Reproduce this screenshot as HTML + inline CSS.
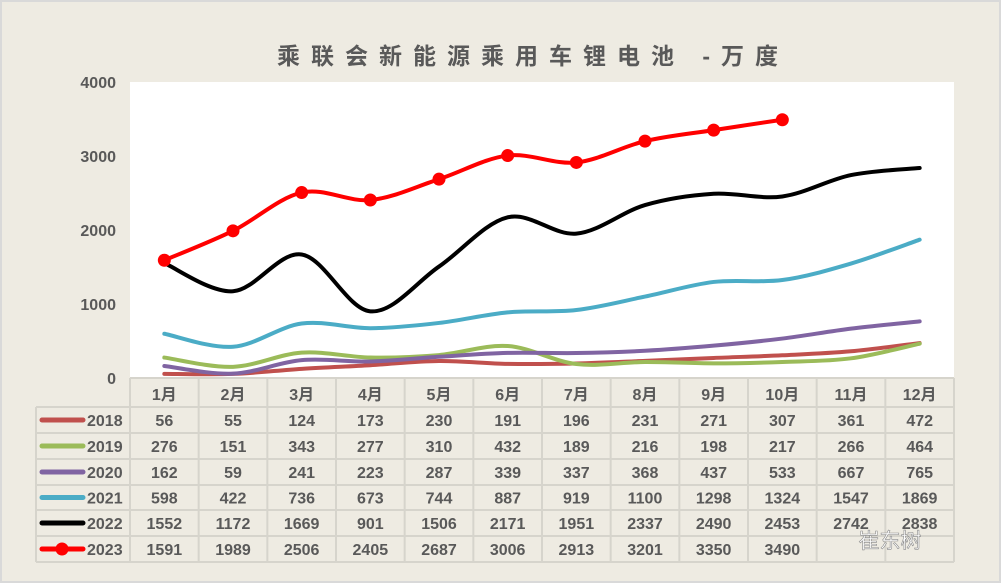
<!DOCTYPE html>
<html><head><meta charset="utf-8"><style>
body{margin:0;background:#fff;}
svg{display:block;font-family:"Liberation Sans","Noto Sans CJK SC",sans-serif;}
</style></head><body>
<svg id="c" width="1001" height="583"></svg>
<script>
const months=["1月","2月","3月","4月","5月","6月","7月","8月","9月","10月","11月","12月"];
const years=["2018","2019","2020","2021","2022","2023"];
const s2018=[56,55,124,173,230,191,196,231,271,307,361,472];
const s2019=[276,151,343,277,310,432,189,216,198,217,266,464];
const s2020=[162,59,241,223,287,339,337,368,437,533,667,765];
const s2021=[598,422,736,673,744,887,919,1100,1298,1324,1547,1869];
const s2022=[1552,1172,1669,901,1506,2171,1951,2337,2490,2453,2742,2838];
const s2023=[1591,1989,2506,2405,2687,3006,2913,3201,3350,3490];
const yTicks=[0,1000,2000,3000,4000];
const series=[s2018,s2019,s2020,s2021,s2022,s2023];
const colors=["#c0504d","#9bbb59","#8064a2","#4bacc6","#000000","#ff0000"];
const NS="http://www.w3.org/2000/svg";
const svg=document.getElementById('c');
const L=130,R=954,T=82,B=378,cw=(R-L)/12;
const x=i=>L+cw*(i+0.5);
const y=v=>B-(v/4000)*(B-T);
function el(t,a,txt){const e=document.createElementNS(NS,t);for(const k in a)e.setAttribute(k,a[k]);if(txt!==undefined)e.textContent=txt;svg.appendChild(e);return e;}
let e;
e=el('rect',{x:1,y:1,width:999,height:581,fill:'#eeebe2',stroke:'#d9d9d9','stroke-width':2});

e=el('rect',{x:L,y:T,width:R-L,height:B-T,fill:'#fff'});

e=el('text',{x:533,y:64,'text-anchor':'middle','font-size':23,'font-weight':'bold',fill:'#595959','letter-spacing':'11'},'乘联会新能源乘用车锂电池 -万度');

yTicks.forEach(v=>{const t=el('text',{x:116,y:y(v)+6,'text-anchor':'end','font-size':16,'font-weight':'bold',fill:'#595959'},v);
});
function smooth(pts){let d=`M${pts[0][0]},${pts[0][1]}`;for(let i=0;i<pts.length-1;i++){const p0=pts[i-1]||pts[i],p1=pts[i],p2=pts[i+1],p3=pts[i+2]||p2;const k=6;d+=` C${p1[0]+(p2[0]-p0[0])/k},${p1[1]+(p2[1]-p0[1])/k} ${p2[0]-(p3[0]-p1[0])/k},${p2[1]-(p3[1]-p1[1])/k} ${p2[0]},${p2[1]}`;}return d;}
series.forEach((s,si)=>{const pts=s.map((v,i)=>[x(i),y(v)]);
const p=el('path',{d:smooth(pts),fill:'none',stroke:colors[si],'stroke-width':4,'stroke-linejoin':'round','stroke-linecap':'round'});

if(si===5)pts.forEach(q=>{const c=el('circle',{cx:q[0],cy:q[1],r:6.5,fill:'#ff0000'});
});});
const rt=[378,407,433,459,485,510,536,562];const g='#d6d4cc';
for(let i=0;i<=12;i++){const ln=el('line',{x1:L+cw*i,y1:378,x2:L+cw*i,y2:562,stroke:g,'stroke-width':2});}
rt.forEach((yy,j)=>{const ln=el('line',{x1:j===0?L:36,y1:yy,x2:R,y2:yy,stroke:g,'stroke-width':2});});
const ln=el('line',{x1:36,y1:407,x2:36,y2:562,stroke:g,'stroke-width':2});
months.forEach((m,i)=>{const t=el('text',{x:x(i),y:400,'text-anchor':'middle','font-size':16,'font-weight':'bold',fill:'#595959'},m);});
series.forEach((s,si)=>{const cy=(rt[si+1]+rt[si+2])/2;
const k=el('line',{x1:42,y1:cy,x2:83,y2:cy,stroke:colors[si],'stroke-width':5,'stroke-linecap':'round'});
if(si===5){const c=el('circle',{cx:62,cy:cy,r:6.5,fill:'#ff0000'});}
const t=el('text',{x:87,y:cy+6,'font-size':16,'font-weight':'bold',fill:'#595959'},years[si]);
s.forEach((v,i)=>{const d=el('text',{x:x(i),y:cy+6,'text-anchor':'middle','font-size':16,'font-weight':'bold',fill:'#595959'},v);});});
const w=el('text',{x:890,y:548,'text-anchor':'middle','font-size':21,fill:'#ffffff',stroke:'#8a8a8a','stroke-width':0.6},'崔东树');
</script>
</body></html>
